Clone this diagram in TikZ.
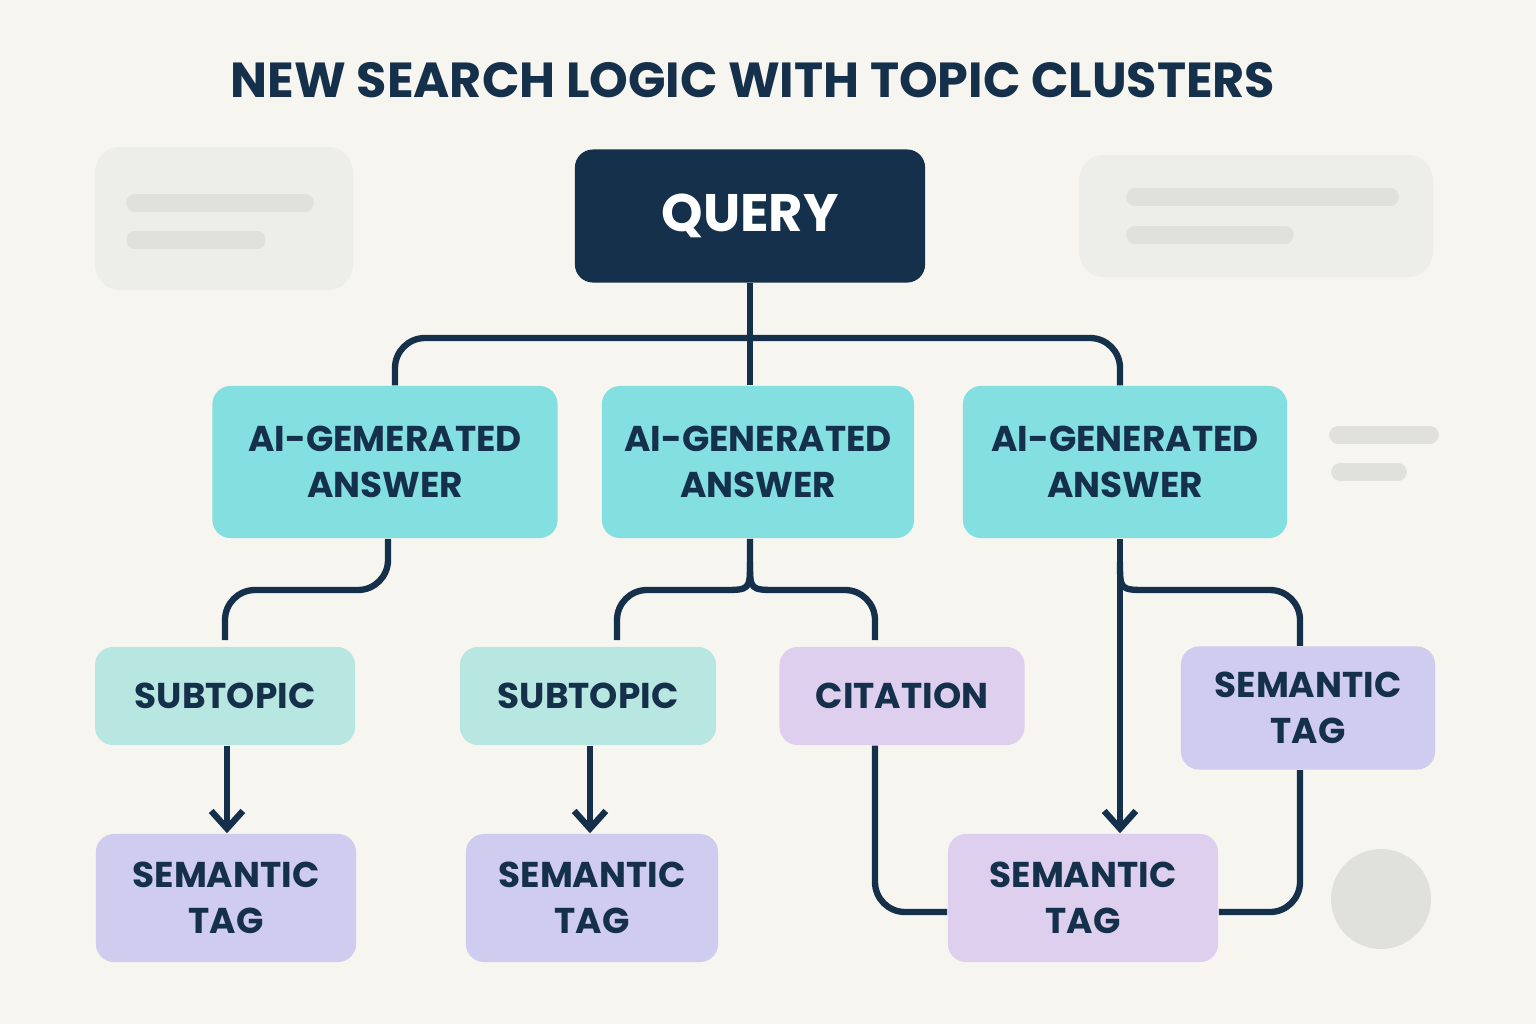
\documentclass[tikz,border=0pt]{standalone}
\usepackage{fontspec}
\setmainfont{Poppins}
\usetikzlibrary{positioning,calc,arrows.meta}
\definecolor{navy}{HTML}{15304A}
\definecolor{bgc}{HTML}{F7F5F0}
\definecolor{aqua}{HTML}{84E0E0}
\definecolor{mint}{HTML}{B8E6E0}
\definecolor{lilac}{HTML}{D0CCF0}
\definecolor{orchid}{HTML}{DFCFEE}
\definecolor{ghost}{HTML}{EDEDEA}
\definecolor{ghostline}{HTML}{E0E0DC}
\begin{document}
\begin{tikzpicture}[x=0.01cm,y=-0.01cm,line join=round,
  box/.style={rounded corners=0.18cm,align=center,text=navy,font=\bfseries\fontsize{10.2}{13}\selectfont,inner sep=0pt},
  link/.style={navy,line width=1.8pt,rounded corners=0.3cm},
  arr/.style={link,-{Straight Barb[length=5pt,width=9pt,line width=1.8pt]}}]
\fill[bgc] (0,0) rectangle (1536,1024);
\useasboundingbox (0,0) rectangle (1536,1024);
% faded background shapes
\fill[ghost,rounded corners=0.25cm] (95,147) rectangle (353,290);
\fill[ghost,rounded corners=0.25cm] (1079,155) rectangle (1433,277);
\draw[ghostline,line width=5pt,line cap=round] (135,203)--(305,203) (135,240)--(257,240)
  (1135,197)--(1390,197) (1135,235)--(1285,235)
  (1338,435)--(1430,435) (1340,472)--(1398,472);
\fill[ghostline] (1381,899) circle (50);
% title
\node[text=navy,font=\bfseries\fontsize{14}{16}\selectfont] (title) at (753,80) {NEW SEARCH LOGIC WITH TOPIC CLUSTERS};
% boxes
\node[box,fill=navy,text=white,minimum width=3.5cm,minimum height=1.33cm,font=\bfseries\fontsize{15}{17}\selectfont] (query) at (750,216) {QUERY};
\node[box,fill=aqua,minimum width=3.45cm,minimum height=1.52cm] (ans1) at (385,462) {AI-GEMERATED\\ANSWER};
\node[box,fill=aqua,minimum width=3.12cm,minimum height=1.52cm] (ans2) at (758,462) {AI-GENERATED\\ANSWER};
\node[box,fill=aqua,minimum width=3.24cm,minimum height=1.52cm] (ans3) at (1125,462) {AI-GENERATED\\ANSWER};
\node[box,fill=mint,minimum width=2.6cm,minimum height=0.98cm] (sub1) at (225,696) {SUBTOPIC};
\node[box,fill=mint,minimum width=2.56cm,minimum height=0.98cm] (sub2) at (588,696) {SUBTOPIC};
\node[box,fill=orchid,minimum width=2.45cm,minimum height=0.98cm] (cit) at (902,696) {CITATION};
\node[box,fill=lilac,minimum width=2.54cm,minimum height=1.23cm] (tagr) at (1308,708) {SEMANTIC\\TAG};
\node[box,fill=lilac,minimum width=2.6cm,minimum height=1.28cm] (tag1) at (226,898) {SEMANTIC\\TAG};
\node[box,fill=lilac,minimum width=2.52cm,minimum height=1.28cm] (tag2) at (592,898) {SEMANTIC\\TAG};
\node[box,fill=orchid,minimum width=2.7cm,minimum height=1.28cm] (tag3) at (1083,898) {SEMANTIC\\TAG};
% connectors
\draw[link] (query.south -| 750,0) -- (ans2.north -| 750,0);
\draw[link] (ans1.north -| 395,0) -- (395,338) -- (1120,338) -- (ans3.north -| 1120,0);
\draw[link] (ans1.south -| 388,0) -- (388,590) -- (225,590) -- (225,640);
\draw[link,sharp corners] (ans2.south -| 750,0) -- (750,562) .. controls (750,590) .. (722,590);
\draw[link] (722,590) -- (617,590) -- (617,640);
\draw[link,sharp corners] (750,562) .. controls (750,590) .. (778,590);
\draw[link] (778,590) -- (875,590) -- (875,640);
\draw[arr] (ans3.south -| 1120,0) -- (tag3.north -| 1120,0);
\draw[link,sharp corners] (1120,562) .. controls (1120,590) .. (1148,590);
\draw[link] (1148,590) -- (1300,590) -- (tagr.north -| 1300,0);
\draw[arr] (sub1.south -| 227,0) -- (tag1.north -| 227,0);
\draw[arr] (sub2.south -| 590,0) -- (tag2.north -| 590,0);
\draw[link] (cit.south -| 875,0) -- (875,912) -- (tag3.west |- 0,912);
\draw[link] (tagr.south -| 1300,0) -- (1300,912) -- (tag3.east |- 0,912);
\end{tikzpicture}
\end{document}
